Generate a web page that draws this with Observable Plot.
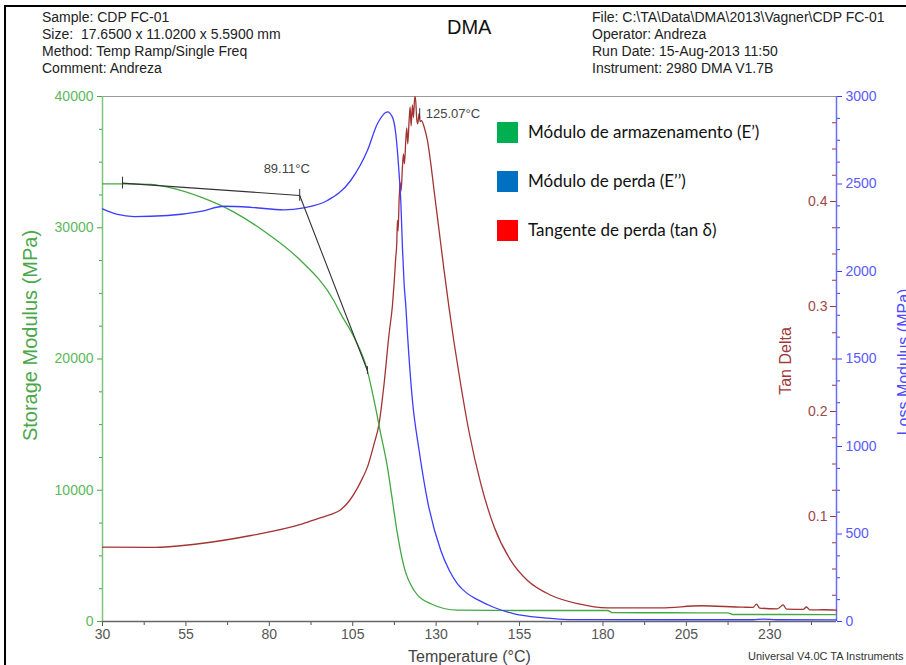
<!DOCTYPE html>
<html>
<head>
<meta charset="utf-8">
<script src="https://cdn.jsdelivr.net/npm/d3@7"></script>
<script src="https://cdn.jsdelivr.net/npm/@observablehq/plot@0.6"></script>
<style>
  html, body { margin:0; padding:0; background:#fff; }
  #wrap { position:relative; width:906px; height:665px; overflow:hidden; font-family:"Liberation Sans", Arial, sans-serif; }
  #border { position:absolute; left:4px; top:5px; width:1000px; height:800px; border:2px solid #000; box-sizing:border-box; }
  .hdr { position:absolute; font-size:14px; line-height:17px; color:#222; white-space:pre; }
  #title { position:absolute; left:447px; top:16px; font-size:20px; color:#111; }
  .ax { position:absolute; font-size:16px; white-space:nowrap; transform-origin:center center; }
  .leg { position:absolute; font-family:Lato, "Open Sans", sans-serif; font-size:17px; color:#111; white-space:nowrap; }
  .box { position:absolute; width:21px; height:21px; }
  svg { position:absolute; left:0; top:0; }
</style>
</head>
<body>
<div id="wrap">
  <div id="border"></div>
  <div class="hdr" style="left:42px;top:9px">Sample: CDP FC-01
Size:  17.6500 x 11.0200 x 5.5900 mm
Method: Temp Ramp/Single Freq
Comment: Andreza</div>
  <div id="title">DMA</div>
  <div class="hdr" style="left:592px;top:9px">File: C:\TA\Data\DMA\2013\Vagner\CDP FC-01
Operator: Andreza
Run Date: 15-Aug-2013 11:50
Instrument: 2980 DMA V1.7B</div>
  <div id="chart"></div>
  <div class="box" style="left:497px;top:122px;background:#00b050"></div>
  <div class="leg" style="left:528px;top:121px">Módulo de armazenamento (E’)</div>
  <div class="box" style="left:497px;top:171px;background:#0070c0"></div>
  <div class="leg" style="left:528px;top:170px">Módulo de perda (E’’)</div>
  <div class="box" style="left:497px;top:220px;background:#ff0000"></div>
  <div class="leg" style="left:528px;top:219px">Tangente de perda (tan δ)</div>
  <div class="ax" id="ylab" style="color:#4aa84a;font-size:20px">Storage Modulus (MPa)</div>
  <div class="ax" id="tlab" style="color:#a03a3a">Tan Delta</div>
  <div class="ax" id="llab" style="color:#4b4bff">Loss Modulus (MPa)</div>
  <div class="ax" id="xlab" style="color:#444;left:408px;top:648px">Temperature (°C)</div>
  <div class="ax" style="color:#333;left:748px;top:650px;font-size:11px">Universal V4.0C TA Instruments</div>
</div>
<script>
// ---------- data ----------
const storageTemp = [30, 36, 44.5, 49.5, 59.5, 69.4, 79.5, 89.4, 99.3, 101.4, 105.4, 109.4, 111.4, 113.4, 115.4, 116.9, 118.4, 120.4, 123.4, 128.4, 136.4, 146.4, 160, 181.4, 182.9, 200, 217.4, 218.9, 235, 250];
const storageMPa  = [33350, 33350, 33300, 33090, 32330, 31190, 29540, 27500, 24460, 23440, 21660, 19120, 16840, 14300, 11760, 9220, 6680, 4140, 2360, 1350, 860, 840, 840, 840, 670, 665, 660, 535, 533, 530];

const lossTemp = [30, 34.5, 39.5, 49.5, 59.5, 66.4, 74.5, 84.3, 90.3, 97.4, 104.4, 109.4, 112.4, 115.4, 116.9, 117.9, 118.9, 119.4, 119.9, 120.4, 120.9, 121.4, 122.9, 124.9, 127.4, 131.4, 134, 136.4, 139, 142.4, 147.4, 153.4, 162.4, 169.4, 200, 225, 228, 232, 250];
const lossMPa  = [2358, 2326, 2314, 2320, 2344, 2373, 2367, 2352, 2364, 2406, 2520, 2691, 2844, 2912, 2882, 2787, 2558, 2406, 2139, 1930, 1806, 1646, 1263, 977, 691, 406, 290, 215, 165, 125, 80, 44, 21, 11, 10, 10, 14, 10, 9];

const tanTemp = [30, 44.5, 59.5, 74.5, 89.4, 95, 98.5, 101.4, 104, 106.4, 108, 109.4, 111.4, 112.9, 114.4, 115.9, 116.9, 117.4, 117.9, 118.2, 118.4, 118.6, 118.9, 119.2, 119.5, 119.9, 120.2, 120.5, 120.9, 121.2, 121.5, 121.9, 122.2, 122.5, 122.9, 123.2, 123.6, 123.9, 124.2, 124.5, 124.9, 125.2, 125.6, 126.4, 127.4, 128.4, 129.4, 130.9, 132.4, 133.9, 135.4, 137.4, 139.9, 143.4, 147.4, 152.4, 157.4, 164.4, 172.4, 181.4, 197.4, 209.4, 222.2, 225, 226, 227, 232.3, 234, 235, 240, 241, 242, 246, 250];
const tanDelta = [0.0708, 0.0705, 0.0743, 0.0819, 0.0924, 0.0985, 0.102, 0.1065, 0.115, 0.127, 0.137, 0.147, 0.1692, 0.1883, 0.2264, 0.2740, 0.3010, 0.322, 0.347, 0.360, 0.382, 0.372, 0.401, 0.418, 0.410, 0.433, 0.445, 0.436, 0.458, 0.470, 0.455, 0.477, 0.490, 0.472, 0.492, 0.480, 0.500, 0.495, 0.478, 0.474, 0.484, 0.476, 0.477, 0.471, 0.458, 0.436, 0.410, 0.372, 0.334, 0.298, 0.265, 0.225, 0.180, 0.131, 0.090, 0.058, 0.039, 0.025, 0.017, 0.013, 0.0130, 0.0150, 0.0136, 0.0135, 0.0165, 0.0128, 0.0121, 0.0158, 0.0118, 0.0115, 0.0138, 0.0110, 0.0112, 0.0108];

// onset tangent construction (storage modulus units)
const tangentTemp = [36, 89.11, 109.4];
const tangentMPa  = [33400, 32460, 19120];
const onsetLabel = "89.11°C";
const peakTemp = 125.07, peakTan = 0.484, peakLabel = "125.07°C";

// axes ticks
const xMajor = [30, 55, 80, 105, 130, 155, 180, 205, 230];
const xMinor = [42.5, 67.5, 92.5, 117.5, 142.5, 167.5, 192.5, 217.5, 242.5];
const storageTicks = [0, 10000, 20000, 30000, 40000];
const lossTicks = [0, 500, 1000, 1500, 2000, 2500, 3000];
const tanTicks = [0.1, 0.2, 0.3, 0.4];

// ---------- scales ----------
const storageMax = 40000, lossMax = 3000, tanMax = 0.5;
const kLoss = storageMax / lossMax, kTan = storageMax / tanMax;
const green = "#43a843", blue = "#3d3dff", maroon = "#a33434";

const storage = storageTemp.map((t, i) => ({t, v: storageMPa[i]}));
const loss = lossTemp.map((t, i) => ({t, v: lossMPa[i] * kLoss}));
const tan = tanTemp.map((t, i) => ({t, v: tanDelta[i] * kTan}));
const tangent = tangentTemp.map((t, i) => ({t, v: tangentMPa[i]}));

const storageMinor = d3.range(0, 40001, 2500).filter(v => v % 10000);
const lossMinor = d3.range(0, 3001, 125).filter(v => v % 500).map(v => v * kLoss);
const tanMinor = d3.range(0, 0.5001, 0.025).filter(v => Math.round(v * 1000) % 100).map(v => v * kTan);

const px = 220 / 734; // degrees per pixel (for small tick lengths)

const chart = Plot.plot({
  width: 906, height: 665,
  marginLeft: 102, marginRight: 70, marginTop: 96, marginBottom: 44,
  style: {fontFamily: "'Liberation Sans', Arial, sans-serif", fontSize: "14px", background: "transparent"},
  x: {domain: [30, 250]},
  y: {domain: [0, storageMax]},
  marks: [
    Plot.ruleY([storageMax], {stroke: "#999", strokeWidth: 1.2}),
    // x axis
    Plot.axisX(xMinor, {tickSize: 4, tickFormat: () => "", color: "#555", label: null}),
    Plot.axisX(xMajor, {tickSize: 5, tickPadding: 3, color: "#555", fontSize: 14, label: null, tickFormat: d => String(d)}),
    Plot.ruleY([0], {stroke: "#666", strokeWidth: 1.5}),
    // left axis (storage)
    Plot.axisY(storageMinor, {anchor: "left", tickSize: 3, tickFormat: () => "", color: green, label: null}),
    Plot.axisY(storageTicks, {anchor: "left", tickSize: 5, tickPadding: 4, color: green, fill: "#5cb85c", fontSize: 14, label: null, tickFormat: d => String(d)}),
    Plot.ruleX([30], {stroke: "#7cc47c", strokeWidth: 1.5}),
    // right axis (loss)
    Plot.axisY(lossMinor, {anchor: "right", tickSize: 3, tickFormat: () => "", color: blue, label: null}),
    Plot.axisY(lossTicks.map(v => v * kLoss), {anchor: "right", tickSize: 5, tickPadding: 4, color: blue, fill: "#5a5aff", fontSize: 14, label: null, tickFormat: d => String(Math.round(d / kLoss))}),
    // tan delta ticks on the same line, pointing left
    Plot.ruleY(tanMinor, {y: d => d, x1: 250 - 4 * px, x2: 250, stroke: maroon}),
    Plot.ruleY(tanTicks, {y: d => d * kTan, x1: 250 - 6 * px, x2: 250, stroke: maroon}),
    Plot.text(tanTicks, {y: d => d * kTan, frameAnchor: "right", textAnchor: "end", dx: -9, text: d => String(d), fill: "#a04848", fontSize: 14}),
    Plot.ruleX([250], {stroke: "#6b6bff", strokeWidth: 1.5}),
    // curves
    Plot.line(tan, {x: "t", y: "v", stroke: maroon, strokeWidth: 1.3, curve: "monotone-x"}),
    Plot.line(storage, {x: "t", y: "v", stroke: green, strokeWidth: 1.3, curve: "monotone-x"}),
    Plot.line(loss, {x: "t", y: "v", stroke: blue, strokeWidth: 1.3, curve: "monotone-x"}),
    // onset annotation
    Plot.line(tangent, {x: "t", y: "v", stroke: "#333", strokeWidth: 1.1}),
    Plot.ruleX(tangent.slice(0, 2), {x: "t", y1: d => d.v - 450, y2: d => d.v + 450, stroke: "#333"}),
    Plot.ruleX(tangent.slice(2), {x: "t", y1: d => d.v - 300, y2: d => d.v + 300, stroke: "#333"}),
    Plot.text([onsetLabel], {x: tangentTemp[1], y: tangentMPa[1], text: d => d, dx: -13, dy: -27, fill: "#444", fontSize: 13}),
    // peak annotation
    Plot.ruleX([peakTemp], {x: d => d, y1: peakTan * kTan - 450, y2: peakTan * kTan + 350, stroke: "#333"}),
    Plot.text([peakLabel], {x: peakTemp, y: peakTan * kTan, text: d => d, dx: 6, dy: 1, textAnchor: "start", fill: "#444", fontSize: 13})
  ]
});
document.getElementById("chart").appendChild(chart);

// rotated axis titles
function place(id, cx, cy) {
  const el = document.getElementById(id);
  const w = el.offsetWidth, h = el.offsetHeight;
  el.style.left = (cx - w / 2) + "px";
  el.style.top = (cy - h / 2) + "px";
  el.style.transform = "rotate(-90deg)";
}
place("ylab", 30, 335);
place("tlab", 786, 361);
place("llab", 904, 362);
</script>
</body>
</html>
